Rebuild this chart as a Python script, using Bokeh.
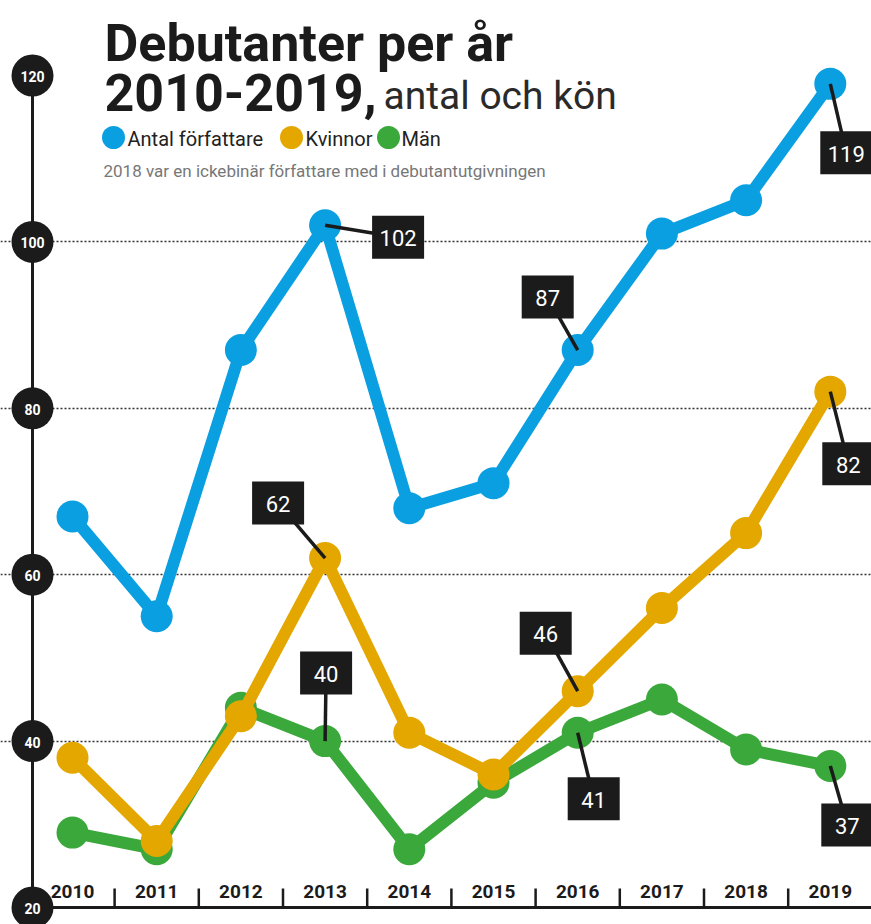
from bokeh.plotting import figure
from bokeh.models import Grid, FixedTicker
from bokeh.core.properties import value
from bokeh.embed import file_html
from bokeh.resources import INLINE

# ---------------- data ----------------
years = [2010, 2011, 2012, 2013, 2014, 2015, 2016, 2017, 2018, 2019]
antal = [67, 55, 87, 102, 68, 71, 87, 101, 105, 119]
kvinnor = [38, 28, 43, 62, 41, 36, 46, 56, 65, 82]
man = [29, 27, 44, 40, 27, 35, 41, 45, 39, 37]
series_names = ["Antal författare", "Kvinnor", "Män"]
y_ticks = [20, 40, 60, 80, 100, 120]
grid_ticks = [40, 60, 80, 100]
year_labels = [str(y) for y in years]

title_1 = "Debutanter per år"
title_2 = "2010-2019,"
title_3 = "antal och kön"
subtitle = "2018 var en ickebinär författare med i debutantutgivningen"

# callouts: which series / which year
callout_series = ["antal", "antal", "antal", "kvinnor", "kvinnor", "kvinnor", "man", "man", "man"]
callout_years = [2013, 2016, 2019, 2013, 2016, 2019, 2013, 2016, 2019]

# ---------------- layout / style ----------------
colors = {"antal": "#0a9fe1", "kvinnor": "#e4a700", "man": "#3aa83a"}
series_data = {"antal": antal, "kvinnor": kvinnor, "man": man}
INK = "#1b1b1b"
FONT = value("Roboto")

# callout box offsets from the point (screen px, +right, +down)
callout_offsets = [(73, 12), (-30, -53), (16, 69),
                   (-47, -55), (-32, -58), (18, 72),
                   (1, -68), (16, 66), (17, 59)]

W, H = 871, 924
PX_X = 84.2   # px per year
PX_Y = 8.32   # px per unit
X_START = years[0] - 72 / PX_X
X_END = X_START + W / PX_X
Y_END = y_ticks[0] + 907 / PX_Y
Y_START = Y_END - H / PX_Y
AXIS_X = years[0] - 40 / PX_X


def sc(sx, sy):
    """screen position (px from top-left) -> data coordinates"""
    return X_START + sx / PX_X, Y_END - sy / PX_Y


p = figure(width=W, height=H, x_range=(X_START, X_END), y_range=(Y_START, Y_END),
           output_backend="svg", toolbar_location=None,
           x_axis_location=None, y_axis_location=None,
           min_border=0, outline_line_color=None, title_location=None)
p.center = []
p.background_fill_color = "white"
p.border_fill_color = "white"

grid = Grid(dimension=1, ticker=FixedTicker(ticks=grid_ticks),
            bounds=(AXIS_X, X_END), grid_line_color="#333333",
            grid_line_dash="2 2", grid_line_width=1.6)
p.add_layout(grid)

# axes
p.segment(x0=[AXIS_X], y0=[y_ticks[0]], x1=[AXIS_X], y1=[y_ticks[-1]],
          line_width=3, line_color=INK)
p.segment(x0=[AXIS_X], y0=[y_ticks[0]], x1=[X_END], y1=[y_ticks[0]],
          line_width=3, line_color=INK)
tick_x = [y + 0.5 for y in years[:-1]]
p.segment(x0=tick_x, y0=[y_ticks[0]] * len(tick_x), x1=tick_x,
          y1=[y_ticks[0] + 19 / PX_Y] * len(tick_x), line_width=2.5, line_color=INK)
p.text(x=years, y=[y_ticks[0]] * len(years), text=year_labels,
       y_offset=-16, text_align="center", text_baseline="middle",
       text_font=FONT, text_font_style="bold", text_font_size="19px",
       text_color=INK)

# series
for key in ["man", "kvinnor", "antal"]:
    p.line(years, series_data[key], line_width=12, line_color=colors[key],
           line_join="round")
    p.scatter(years, series_data[key], size=32, fill_color=colors[key],
              line_color=None)

# y tick circles
p.scatter(x=[AXIS_X] * len(y_ticks), y=y_ticks, size=42, fill_color=INK, line_color=None)
p.text(x=[AXIS_X] * len(y_ticks), y=y_ticks, text=[str(t) for t in y_ticks],
       y_offset=1, text_align="center", text_baseline="middle",
       text_font=FONT, text_font_style="bold", text_font_size="14px",
       text_color="white")

# callouts
px_, py_, bx_, by_, lbl_ = [], [], [], [], []
for s, yr, (dx, dy) in zip(callout_series, callout_years, callout_offsets):
    v = series_data[s][years.index(yr)]
    px_.append(yr)
    py_.append(v)
    bx_.append(yr + dx / PX_X)
    by_.append(v - dy / PX_Y)
    lbl_.append(str(v))
p.segment(x0=px_, y0=py_, x1=bx_, y1=by_, line_width=3.5, line_color=INK)
p.rect(x=bx_, y=by_, width=52, height=43, width_units="screen", height_units="screen",
       fill_color=INK, line_color=None)
p.text(x=bx_, y=by_, text=lbl_, y_offset=1, text_align="center", text_baseline="middle",
       text_font=FONT, text_font_size="22px", text_color="white")

# title (positions = vertical centre of capitals)
tx, ty = sc(104, 43)
p.text(x=[tx], y=[ty], text=[title_1], text_baseline="middle", text_align="left",
       text_font=FONT, text_font_style="bold", text_font_size="52px", text_color=INK)
tx, ty = sc(104, 92)
p.text(x=[tx], y=[ty], text=[title_2], text_baseline="middle", text_align="left",
       text_font=FONT, text_font_style="bold", text_font_size="52px", text_color=INK)
tx, ty = sc(383, 95)
p.text(x=[tx], y=[ty], text=[title_3], text_baseline="middle", text_align="left",
       text_font=FONT, text_font_size="39px", text_color="#2a2a2a")

# legend
leg_keys = ["antal", "kvinnor", "man"]
leg_dot_x = [113, 291, 388]
leg_txt_x = [127, 305, 401]
for k, name, dxp, txp in zip(leg_keys, series_names, leg_dot_x, leg_txt_x):
    cx, cy = sc(dxp, 137)
    p.scatter(x=[cx], y=[cy], size=23, fill_color=colors[k], line_color=None)
    lx, ly = sc(txp, 138)
    p.text(x=[lx], y=[ly], text=[name], text_baseline="middle", text_align="left",
           text_font=FONT, text_font_size="20px", text_color="#222222")

sx_, sy_ = sc(103, 170)
p.text(x=[sx_], y=[sy_], text=[subtitle], text_baseline="middle", text_align="left",
       text_font=FONT, text_font_size="17px", text_color="#777777")

open("out.html", "w").write(file_html(p, INLINE))
